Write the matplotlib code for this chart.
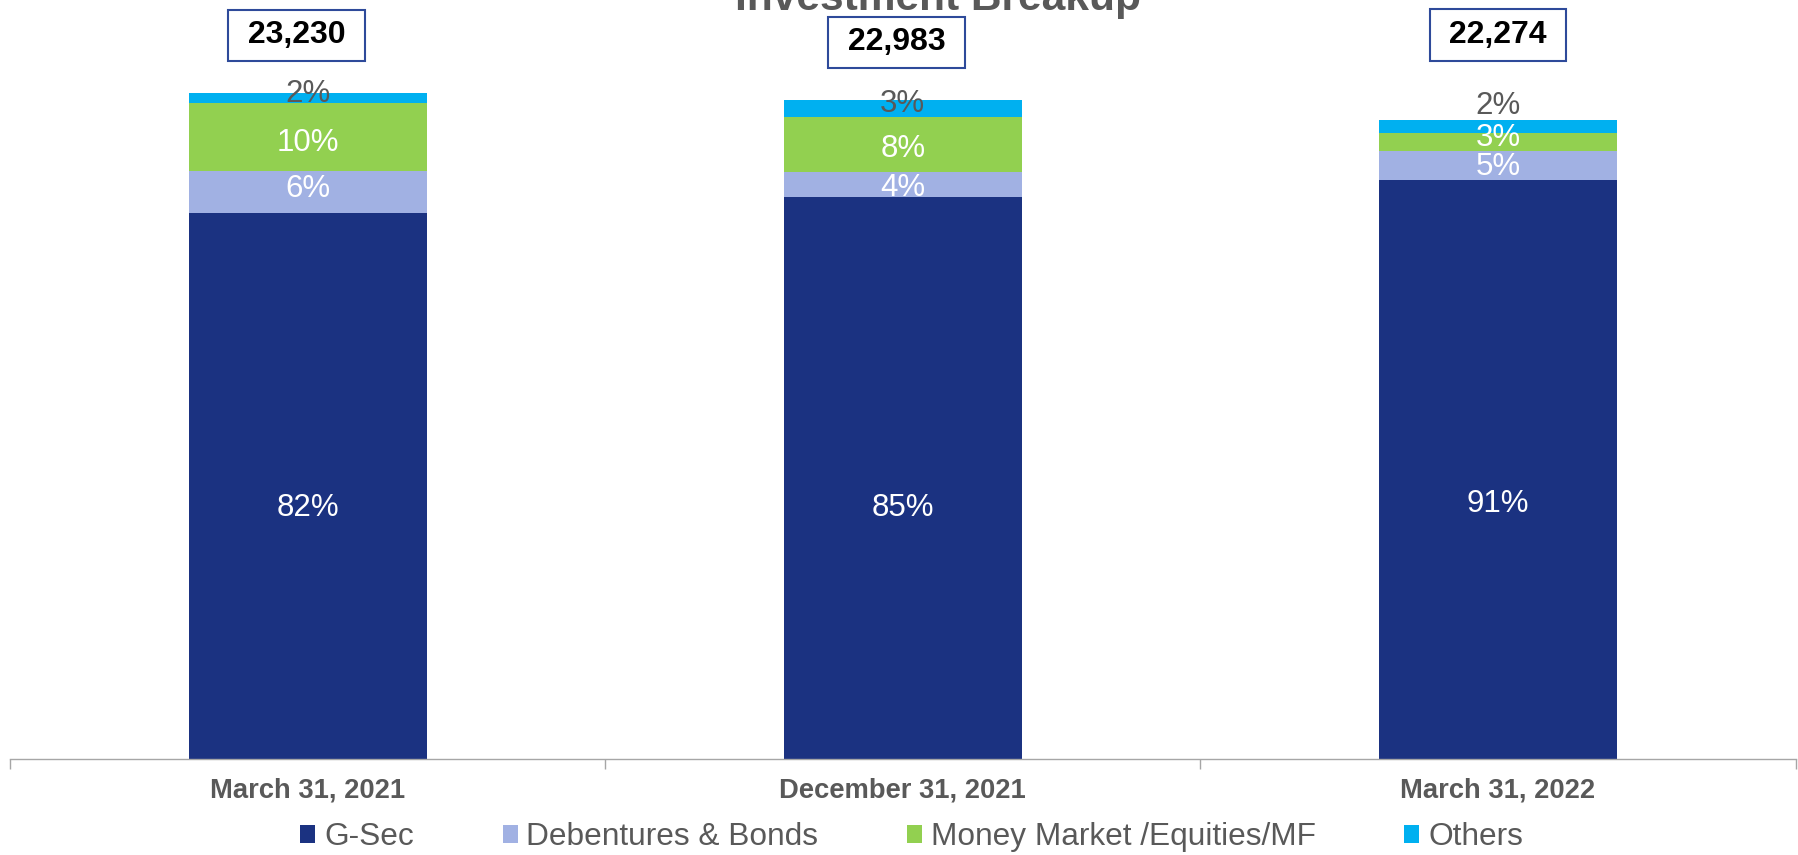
import matplotlib
matplotlib.use("Agg")
import matplotlib.pyplot as plt
from matplotlib.patches import Patch
import numpy as np

# ---- data ----
categories = ["March 31, 2021", "December 31, 2021", "March 31, 2022"]
totals = [23230, 22983, 22274]
series_names = ["G-Sec", "Debentures & Bonds", "Money Market /Equities/MF", "Others"]
gsec_share = [82.0, 85.2, 90.6]
debentures_share = [6.2, 3.9, 4.6]
money_market_share = [10.2, 8.3, 2.8]
others_share = [1.6, 2.6, 2.0]
title = "Investment Breakup"

# ---- style ----
colors = ["#1B3281", "#A1B1E3", "#92D050", "#00B0F0"]
label_colors = ["white", "white", "white", "#595959"]
grey = "#595959"
# per-label vertical nudges in pixels (positive = down), [series][bar]
label_nudge = [[19, 26.5, 31], [-5.5, 1, -1], [2.5, 1.5, -7], [-6.5, -7, -23]]
box_rise = [57.5, 57.5, 85]
box_shift = [-11, -6, 0]

plt.rcParams["font.family"] = ["Liberation Sans", "DejaVu Sans"]
fig = plt.figure(figsize=(17.98, 8.55), dpi=100)
ax = fig.add_axes([0.00556, 0.11228, 0.99305, 0.8724])

x = np.arange(len(categories))
shares = [gsec_share, debentures_share, money_market_share, others_share]
tot = np.array(totals, dtype=float)
bottom = np.zeros(len(categories))
for s, (name, share) in enumerate(zip(series_names, shares)):
    h = tot * np.array(share) / 100.0
    ax.bar(x, h, 0.4, bottom=bottom, color=colors[s], label=name, linewidth=0)
    for i in range(len(x)):
        yc = bottom[i] + h[i] / 2
        ax.annotate(f"{round(share[i])}%", xy=(x[i], yc),
                    xytext=(0, -(label_nudge[s][i] + 11)), textcoords="offset pixels",
                    ha="center", va="baseline", fontsize=22.5, color=label_colors[s],
                    annotation_clip=False)
    bottom += h

for i in range(len(x)):
    ax.annotate(f" {totals[i]:,} ", xy=(x[i], bottom[i]),
                xytext=(box_shift[i], box_rise[i]), textcoords="offset pixels",
                ha="center", va="center", fontsize=23, fontweight="bold", color="black",
                bbox=dict(boxstyle="square,pad=0.33", fc="white", ec="#2E4A9A", lw=1.5),
                annotation_clip=False)

for sp in ["left", "right", "top"]:
    ax.spines[sp].set_visible(False)
ax.spines["bottom"].set_color("#A6A6A6")
ax.spines["bottom"].set_linewidth(1.0)
ax.set_xlim(-0.5, len(categories) - 0.5)
ax.set_ylim(0, 26000)
ax.set_yticks([])
ax.set_xticks(x)
ax.set_xticklabels(categories, fontsize=19.7, fontweight="bold", color=grey)
ax.tick_params(axis="x", which="major", length=0, pad=13)
ax.set_xticks(np.arange(-0.5, len(categories), 1.0), minor=True)
ax.tick_params(axis="x", which="minor", length=7.2, color="#A6A6A6", width=1)

fig.text(0.5219, 0.9883, title, ha="center", va="baseline", fontsize=30.6,
         fontweight="bold", color=grey)

handles = [Patch(facecolor=c, edgecolor="none") for c in colors]
fig.legend(handles, series_names, loc="center", bbox_to_anchor=(0.5071, 0.021), ncol=4,
           frameon=False, fontsize=22.8, labelcolor=grey, handlelength=0.47,
           handleheight=0.5, handletextpad=0.28, columnspacing=2.8,
           borderaxespad=0, borderpad=0)

fig.savefig("out.png", dpi=100)
